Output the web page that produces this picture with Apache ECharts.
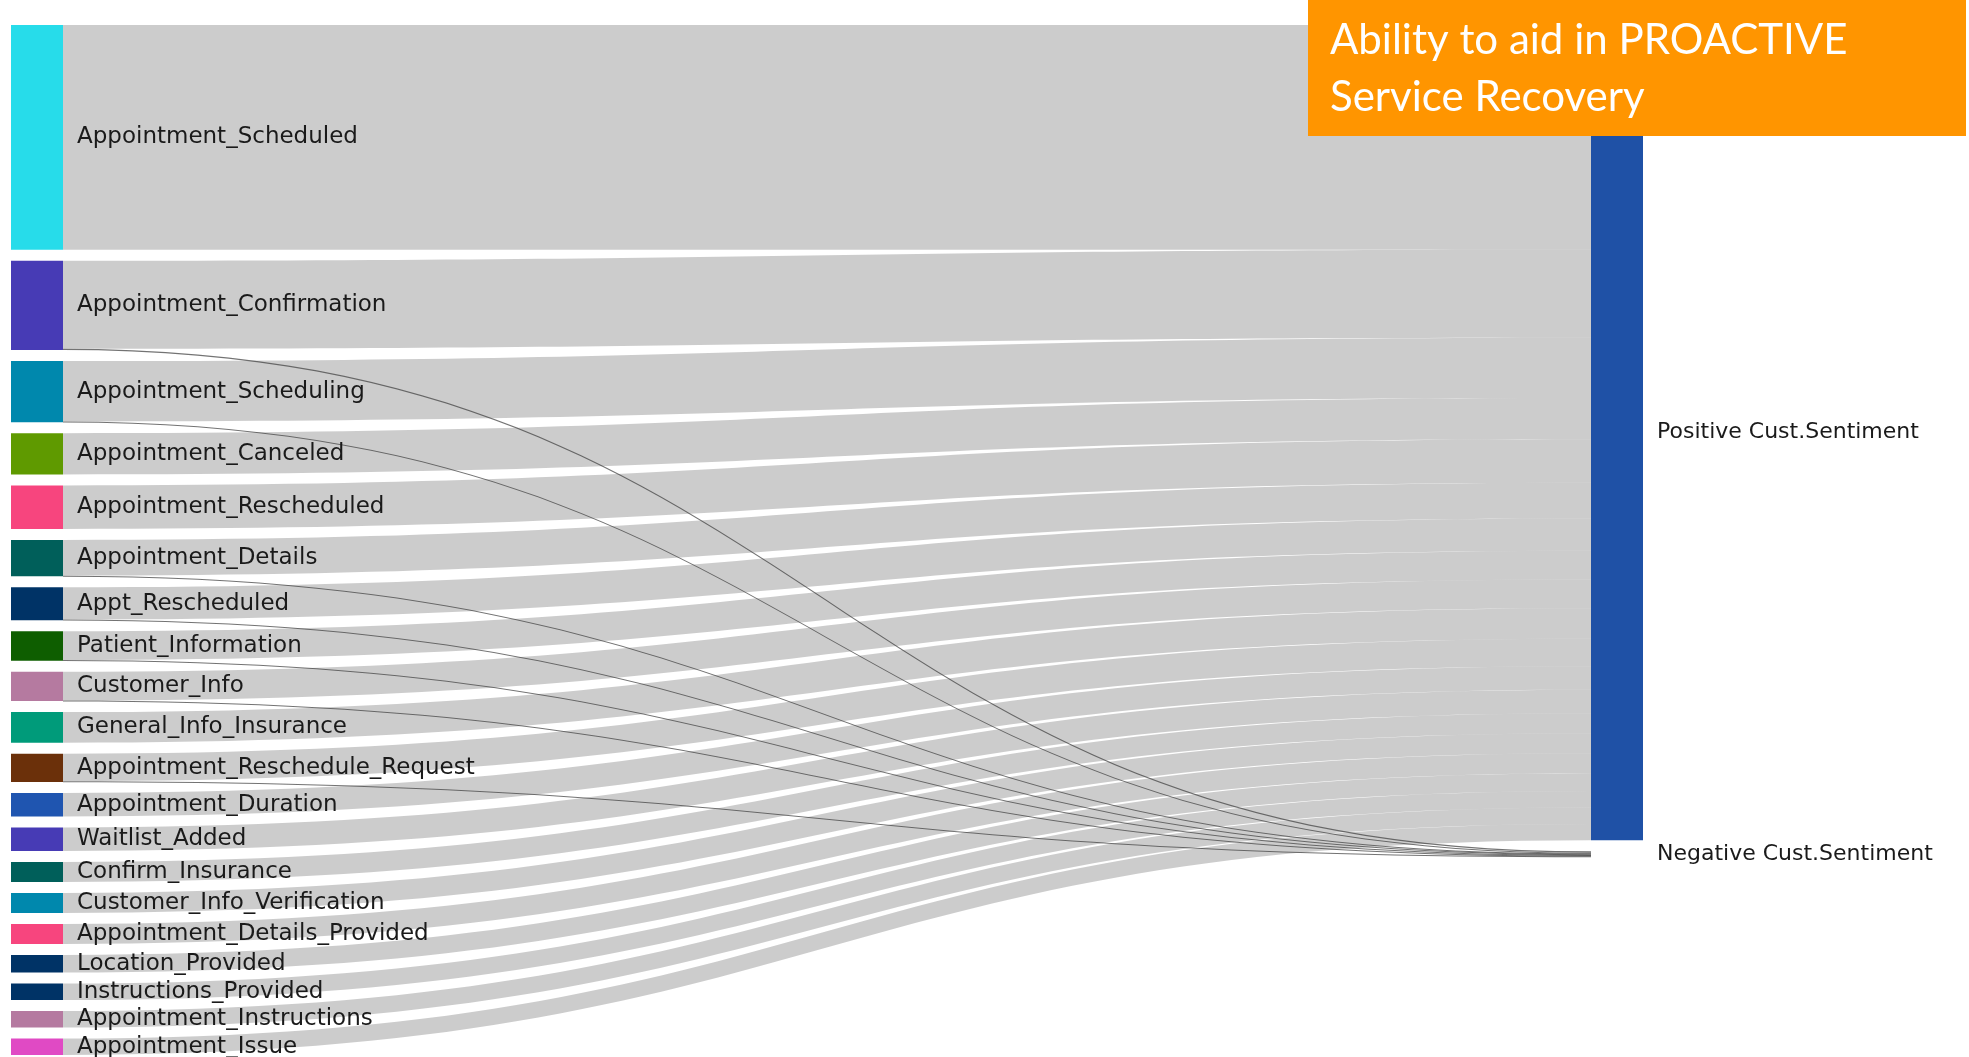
<!DOCTYPE html>
<html>
<head>
<meta charset="utf-8">
<title>Intent to sentiment sankey</title>
<script src="https://cdn.jsdelivr.net/npm/echarts@6/dist/echarts.min.js"></script>
<style>
  html, body { margin: 0; padding: 0; background: #fff; }
  #main { width: 1969px; height: 1057px; }
</style>
</head>
<body>
<div id="main"></div>
<script>
// intents (left column), top to bottom
const intents = [
  'Appointment_Scheduled', 'Appointment_Confirmation', 'Appointment_Scheduling',
  'Appointment_Canceled', 'Appointment_Rescheduled', 'Appointment_Details',
  'Appt_Rescheduled', 'Patient_Information', 'Customer_Info', 'General_Info_Insurance',
  'Appointment_Reschedule_Request', 'Appointment_Duration', 'Waitlist_Added',
  'Confirm_Insurance', 'Customer_Info_Verification', 'Appointment_Details_Provided',
  'Location_Provided', 'Instructions_Provided', 'Appointment_Instructions', 'Appointment_Issue'
];
const intentColors = [
  '#27dcea', '#473bb5', '#0088ad', '#5f9a00', '#f7457e', '#005f5a',
  '#003366', '#0e5e00', '#b57aa0', '#009b7a', '#6b300a', '#1f55b0',
  '#473bb5', '#005f5a', '#0088ad', '#f7457e', '#003366', '#003366',
  '#b57aa0', '#e04ac4'
];
const sentiments = ['Positive Cust.Sentiment', 'Negative Cust.Sentiment'];

// flow sizes
const positiveValues = [191, 74.8, 51.4, 35, 37, 30.4, 27.4, 24.4, 24.4, 26,
  23.4, 20, 20, 17, 17, 17, 15, 14, 14, 14];
const negativeValues = [0, 1.2, 0.6, 0, 0, 0.6, 0.6, 0.6, 0.6, 0,
  0.6, 0, 0, 0, 0, 0, 0, 0, 0, 0];

const nodes = intents.map((name, i) => ({
  name: name,
  itemStyle: { color: intentColors[i] }
}));
nodes.push({ name: sentiments[0], itemStyle: { color: '#1f51a6' }, label: { fontSize: 22 } });
nodes.push({ name: sentiments[1], itemStyle: { color: 'rgba(0,0,0,0)' }, label: { fontSize: 22 } });

const links = [];
intents.forEach((name, i) => {
  links.push({ source: name, target: sentiments[0], value: positiveValues[i] });
});
intents.forEach((name, i) => {
  if (negativeValues[i] > 0) {
    links.push({
      source: name, target: sentiments[1], value: negativeValues[i],
      lineStyle: { color: '#444', opacity: 0.75 }
    });
  }
});

const chart = echarts.init(document.getElementById('main'));
chart.setOption({
  animation: false,
  series: [{
    type: 'sankey',
    left: 11,
    right: 326,
    top: 25,
    bottom: 2,
    nodeWidth: 52,
    nodeGap: 11,
    layoutIterations: 0,
    draggable: false,
    emphasis: { disabled: true },
    data: nodes,
    links: links,
    label: {
      position: 'right',
      distance: 14,
      fontFamily: 'DejaVu Sans',
      fontSize: 23,
      color: '#1a1a1a'
    },
    lineStyle: { color: '#000', opacity: 0.2, curveness: 0.5 }
  }],
  graphic: [
    {
      type: 'rect',
      z: 100,
      shape: { x: 1308, y: 0, width: 658, height: 136 },
      style: { fill: '#ff9500' }
    },
    {
      type: 'text',
      z: 101,
      x: 1330,
      y: 12,
      style: {
        text: 'Ability to aid in PROACTIVE\nService Recovery',
        fill: '#fff',
        font: '42px Lato',
        lineHeight: 57,
        verticalAlign: 'top'
      }
    }
  ]
});
</script>
</body>
</html>
